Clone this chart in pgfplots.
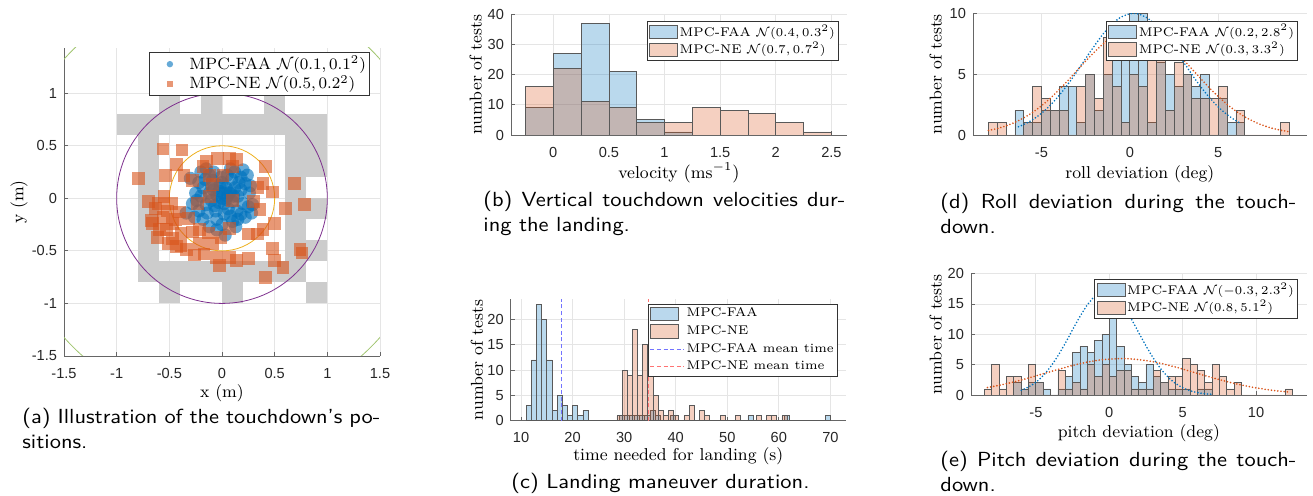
\documentclass[border=0pt]{standalone}
\usepackage{pgfplots}
\pgfplotsset{compat=1.18}
\usepackage{fontspec}
\newfontfamily\tickfont{Liberation Sans}
\newfontfamily\capfam[FakeStretch=1.1]{Latin Modern Sans}
\definecolor{mblue}{rgb}{0,0.447,0.741}
\definecolor{morange}{rgb}{0.85,0.325,0.098}
\definecolor{mpurple}{rgb}{0.494,0.184,0.556}
\definecolor{myellow}{rgb}{0.929,0.694,0.125}
\definecolor{mgreen}{rgb}{0.466,0.674,0.188}
\definecolor{axgray}{gray}{0.4}
\definecolor{gridgray}{gray}{0.9}
\definecolor{checker}{gray}{0.8}
\definecolor{edgegray}{gray}{0.35}
\pgfplotsset{
  mstyle/.style={
    scale only axis,
    axis x line*=bottom, axis y line*=left,
    axis line style={axgray, line width=0.4pt, -},
    tick style={axgray, line width=0.4pt},
    major tick length=2pt,
    tick align=inside,
    xmajorgrids, ymajorgrids,
    major grid style={gridgray, line width=0.4pt},
    tick label style={font=\tickfont\fontsize{7.3}{8}\selectfont, text=black!85},
    xticklabel style={yshift=-2.5pt},
    label style={font=\fontsize{8.6}{10}\selectfont},
    legend style={font=\fontsize{6.3}{8.2}\selectfont, draw=black!80, line width=0.4pt, fill=white,
      inner xsep=1pt, inner ysep=0.8pt, row sep=0pt, nodes={inner sep=0.8pt}},
    legend cell align=left,
  },
  hist/.style={ybar interval, fill opacity=0.27, draw=edgegray, draw opacity=1, line width=0.4pt,
     legend image code/.code={\draw[##1] (0pt,-3.3pt) rectangle (14pt,3.3pt);}},
  markleg/.style={legend image code/.code={\path[draw=none] (0pt,0pt) -- (18pt,0pt); \draw[##1, mark size=1.6pt] plot coordinates {(9pt,0pt)};}},
  curve/.style={line width=0.9pt, dash pattern=on 0pt off 1.6pt, line cap=round, smooth, forget plot},
}
\newcommand\cell[4]{\addplot[fill=checker, draw=none, forget plot] coordinates {(#1,#2) (#3,#2) (#3,#4) (#1,#4)};}
\newcommand\capfont{\capfam\fontsize{10.2}{12}\selectfont}
\begin{document}
\begin{tikzpicture}
\useasboundingbox (0,0) rectangle (656.5pt,248pt);
% ---------------- (a)
\begin{axis}[mstyle, at={(32pt,70pt)}, anchor=south west, width=158pt, height=154pt,
  xmin=-1.5, xmax=1.5, ymin=-1.5, ymax=1.43,
  xtick={-1.5,-1,-0.5,0,0.5,1,1.5}, xticklabels={-1.5,-1,-0.5,0,0.5,1,1.5},
  ytick={-1.5,-1,-0.5,0,0.5,1}, yticklabels={-1.5,-1,-0.5,0,0.5,1},
  xlabel={x (m)}, ylabel={y (m)},
  xlabel style={yshift=3.6pt},
  ylabel style={at={(axis description cs:-0.142,0.5)}, anchor=center},
  legend style={at={(0.968,0.987)}, anchor=north east, font=\fontsize{8.2}{10}\selectfont, inner ysep=1pt},
]
\cell{-0.6}{0.8}{-0.4}{1}
\cell{-0.2}{0.8}{0}{1}
\cell{0.4}{0.8}{0.6}{1}
\cell{-1}{0.6}{1}{0.8}
\cell{-0.8}{-0.6}{-0.6}{0.6}
\cell{0.6}{-0.6}{0.8}{0.6}
\cell{0.8}{0.2}{1}{0.6}
\cell{0.8}{-0.2}{1}{0}
\cell{0.8}{-0.6}{1}{-0.4}
\cell{-0.8}{-0.8}{0.8}{-0.6}
\cell{-0.6}{-1}{-0.4}{-0.8}
\cell{0}{-1}{0.2}{-0.8}
\cell{0.8}{-1}{1}{-0.8}
\draw[mgreen!70, line width=0.4pt] (axis cs:0,0) circle[radius=2];
\draw[mpurple, line width=0.4pt] (axis cs:0,0) circle[radius=1];
\draw[myellow, line width=0.4pt] (axis cs:0,0) circle[radius=0.5];
\addplot[only marks, mark=*, mark size=3.3pt, mark options={draw opacity=0, line width=0pt, fill=mblue, fill opacity=0.6}, markleg]
coordinates {(0.00,0.00) (0.05,0.02) (-0.05,0.03) (0.02,-0.05) (-0.03,-0.04) (0.08,0.06) (-0.08,0.08) (0.10,-0.03) (-0.10,-0.02) (0.04,0.10) (-0.02,0.12) (0.12,0.10) (-0.12,0.05) (0.06,-0.10) (-0.06,-0.12) (0.15,0.02) (-0.15,-0.06) (0.00,0.15) (0.02,-0.15) (0.18,0.08) (-0.18,0.10) (0.14,-0.12) (-0.14,-0.14) (0.09,0.18) (-0.09,0.17) (0.20,-0.05) (-0.20,0.02) (0.05,0.22) (-0.05,-0.20) (0.22,0.14) (-0.22,0.15) (0.18,-0.15) (-0.22,-0.12) (0.12,0.25) (-0.12,0.22) (0.25,-0.08) (-0.25,0.05) (0.00,-0.25) (0.10,-0.22) (-0.12,-0.27) (0.03,-0.35) (-0.34,-0.14) (-0.30,0.19) (0.20,0.27) (0.29,-0.06) (0.26,0.05) (-0.28,-0.05) (0.07,0.05) (-0.03,0.07) (0.11,0.02) (-0.07,-0.07) (0.01,0.05) (0.04,-0.01) (-0.10,0.12) (0.16,0.15) (-0.16,0.18) (0.15,-0.20) (-0.18,-0.20) (0.08,-0.17) (-0.01,0.20) (0.22,-0.18) (0.28,-0.14) (-0.26,-0.18) (-0.05,-0.30) (-0.20,0.25) (0.08,0.28) (0.18,0.20) (0.24,0.22) (-0.15,0.28) (-0.24,-0.02) (0.27,0.12) (-0.08,0.25) (0.13,-0.27)};
\addlegendentry{MPC-FAA $\mathcal{N}(0.1,0.1^2)$}
\addplot[only marks, mark=square*, mark size=3.2pt, mark options={draw opacity=0, line width=0pt, fill=morange, fill opacity=0.6}, markleg]
coordinates {(-0.56,0.47) (-0.38,0.46) (-0.79,0.19) (-0.54,0.22) (-0.43,0.32) (-0.15,0.35) (-0.04,0.38) (0.07,0.38) (0.14,0.37) (0.41,0.30) (0.39,0.14) (0.48,0.06) (0.69,0.14) (0.78,-0.06) (0.60,-0.10) (0.50,-0.24) (0.34,-0.34) (0.25,-0.34) (0.07,-0.29) (0.48,-0.48) (0.74,-0.49) (0.50,-0.59) (0.58,-0.66) (0.41,-0.75) (0.25,-0.57) (0.14,-0.59) (-0.02,-0.64) (-0.17,-0.53) (-0.34,-0.49) (-0.43,-0.46) (-0.51,-0.43) (-0.59,-0.30) (-0.67,-0.21) (-0.70,-0.03) (-0.63,-0.10) (-0.55,0.02) (-0.48,-0.05) (-0.56,-0.18) (-0.47,-0.24) (-0.39,-0.33) (-0.28,-0.32) (-0.21,-0.43) (-0.09,-0.43) (-0.01,-0.37) (-0.32,-0.19) (-0.40,-0.13) (-0.23,-0.05) (-0.12,0.02) (0.10,-0.02) (-0.12,0.22) (0.01,0.22) (-0.09,0.13) (0.30,-0.03) (0.36,-0.11) (-0.36,0.22) (-0.28,0.17) (-0.18,0.30) (0.10,0.30) (-0.66,-0.24) (-0.61,-0.37) (-0.53,-0.30) (-0.47,-0.38) (-0.39,-0.45) (-0.21,-0.30) (-0.13,-0.33) (-0.26,-0.54) (0.07,-0.56) (-0.05,-0.56) (0.34,0.10) (0.39,-0.30) (0.76,-0.52) (-0.60,-0.05) (-0.52,-0.12) (-0.44,-0.20)};
\addlegendentry{MPC-NE $\mathcal{N}(0.5,0.2^2)$}
\end{axis}
% ---------------- (b)
\begin{axis}[mstyle, at={(255.5pt,180.5pt)}, anchor=south west, width=168pt, height=60.5pt,
  xmin=-0.38, xmax=2.64, ymin=0, ymax=40,
  xtick={0,0.5,1,1.5,2,2.5}, xticklabels={0,0.5,1,1.5,2,2.5},
  ytick={0,10,20,30,40}, yticklabels={0,10,20,30,40},
  xlabel={velocity $(\mathrm{ms}^{-1})$}, ylabel={number of tests},
  xlabel style={yshift=4.1pt},
  ylabel style={at={(axis description cs:-0.105,0.5)}, anchor=center},
  legend style={at={(0.976,0.942)}, anchor=north east},
]
\addplot[hist, fill=mblue] coordinates {(-0.25,9) (0,27) (0.25,37) (0.5,21) (0.75,5) (1,1) (1.25,0)};
\addlegendentry{MPC-FAA $\mathcal{N}(0.4,0.3^2)$}
\addplot[hist, fill=morange] coordinates {(-0.25,16) (0,22) (0.25,11) (0.5,9) (0.75,4) (1,4) (1.25,9) (1.5,8) (1.75,7) (2,4) (2.25,1) (2.5,0)};
\addlegendentry{MPC-NE $\mathcal{N}(0.7,0.7^2)$}
\end{axis}
% ---------------- (c)
\begin{axis}[mstyle, at={(255.35pt,37.65pt)}, anchor=south west, width=167.6pt, height=60.7pt,
  xmin=8, xmax=73, ymin=0, ymax=24,
  xtick={10,20,30,40,50,60,70}, xticklabels={10,20,30,40,50,60,70},
  ytick={0,5,10,15,20}, yticklabels={0,5,10,15,20},
  xlabel={time needed for landing (s)}, ylabel={number of tests},
  xlabel style={yshift=4.4pt},
  ylabel style={at={(axis description cs:-0.101,0.5)}, anchor=center},
  legend style={at={(0.976,0.961)}, anchor=north east, row sep=1.3pt},
]
\addplot[hist, fill=mblue] coordinates {(11,3) (12,12) (13,23) (14,20) (15,12) (16,2) (17,5) (18,3) (19,1) (20,3) (21,1) (22,2) (23,0) (24,0) (25,0) (26,0) (27,0) (28,0) (29,1) (30,1) (31,1) (32,1) (33,1) (34,1) (35,2) (36,1) (37,0) (38,0) (39,1) (40,0) (41,0) (42,0) (43,0) (44,0) (45,0) (46,0) (47,0) (48,0) (49,0) (50,0) (51,0) (52,0) (53,0) (54,1) (55,0) (56,0) (57,0) (58,0) (59,0) (60,0) (61,1) (62,0) (63,0) (64,0) (65,0) (66,0) (67,0) (68,0) (69,1) (70,0)};
\addlegendentry{MPC-FAA}
\addplot[hist, fill=morange] coordinates {(28.6,1) (29.6,10) (30.6,9) (31.6,18) (32.6,9) (33.6,15) (34.6,10) (35.6,5) (36.6,2) (37.6,1) (38.6,2) (39.6,1) (40.6,0) (41.6,1) (42.6,3) (43.6,0) (44.6,2) (45.6,1) (46.6,0) (47.6,0) (48.6,1) (49.6,0) (50.6,0) (51.6,1) (52.6,0) (53.6,0) (54.6,0) (55.6,1) (56.6,0) (57.6,1) (58.6,1) (59.6,0) (60.6,1) (61.6,0)};
\addlegendentry{MPC-NE}
\addplot[blue!55, dash pattern=on 2pt off 1.3pt, line width=0.45pt] coordinates {(17.8,0) (17.8,24)};
\addlegendentry{MPC-FAA mean time}
\addplot[red!55, dash pattern=on 2pt off 1.3pt, line width=0.45pt] coordinates {(34.7,0) (34.7,24)};
\addlegendentry{MPC-NE mean time}
\end{axis}
% ---------------- (d)
\begin{axis}[mstyle, at={(486.5pt,180.5pt)}, anchor=south west, width=166.85pt, height=60.85pt,
  xmin=-8.87, xmax=10, ymin=0, ymax=10,
  xtick={-5,0,5}, xticklabels={-5,0,5},
  ytick={0,5,10}, yticklabels={0,5,10},
  xlabel={roll deviation (deg)}, ylabel={number of tests},
  xlabel style={yshift=2.6pt},
  ylabel style={at={(axis description cs:-0.112,0.5)}, anchor=center},
  legend style={at={(0.974,0.937)}, anchor=north east},
]
\addplot[hist, fill=mblue] coordinates {(-6.5,2) (-6,1) (-5.5,1) (-5,2) (-4.5,2) (-4,4) (-3.5,4) (-3,1) (-2.5,5) (-2,2) (-1.5,5) (-1,8) (-0.5,8) (0,10) (0.5,10) (1,1) (1.5,6) (2,5) (2.5,4) (3,5) (3.5,4) (4,5) (4.5,0) (5,3) (5.5,1) (6,1) (6.5,0)};
\addlegendentry{MPC-FAA $\mathcal{N}(0.2,2.8^2)$}
\addplot[hist, fill=morange] coordinates {(-8,1) (-7.5,1) (-7,0) (-6.5,0) (-6,1) (-5.5,4) (-5,3) (-4.5,2) (-4,2) (-3.5,0) (-3,4) (-2.5,5) (-2,3) (-1.5,8) (-1,4) (-0.5,1) (0,5) (0.5,4) (1,8) (1.5,7) (2,2) (2.5,6) (3,5) (3.5,3) (4,3) (4.5,3) (5,4) (5.5,0) (6,2) (6.5,0) (7,0) (7.5,0) (8,0) (8.5,1) (9,0)};
\addlegendentry{MPC-NE $\mathcal{N}(0.3,3.3^2)$}
\addplot[curve, mblue] coordinates {(-6.3,0.68) (-6,0.86) (-5.5,1.26) (-5,1.78) (-4.5,2.44) (-4,3.25) (-3.5,4.18) (-3,5.20) (-2.5,6.28) (-2,7.34) (-1.5,8.32) (-1,9.12) (-0.5,9.69) (0,9.97) (0.2,10) (0.5,9.94) (1,9.60) (1.5,8.98) (2,8.13) (2.5,7.14) (3,6.07) (3.5,4.99) (4,3.98) (4.5,3.08) (5,2.30) (5.5,1.67) (6,1.17) (6.3,0.93)};
\addplot[curve, morange] coordinates {(-8,0.37) (-7.5,0.53) (-7,0.75) (-6.5,1.04) (-6,1.41) (-5.5,1.86) (-5,2.40) (-4.5,3.02) (-4,3.72) (-3.5,4.48) (-3,5.28) (-2.5,6.07) (-2,6.82) (-1.5,7.50) (-1,8.05) (-0.5,8.45) (0,8.66) (0.3,8.7) (0.5,8.68) (1,8.51) (1.5,8.14) (2,7.62) (2.5,6.97) (3,6.23) (3.5,5.44) (4,4.65) (4.5,3.87) (5,3.16) (5.5,2.52) (6,1.96) (6.5,1.49) (7,1.11) (7.5,0.81) (8,0.57) (8.5,0.40) (9,0.27)};
\end{axis}
% ---------------- (e)
\begin{axis}[mstyle, at={(485.5pt,50.5pt)}, anchor=south west, width=167.85pt, height=60.65pt,
  xmin=-9.42, xmax=13.45, ymin=0, ymax=20,
  xtick={-5,0,5,10}, xticklabels={-5,0,5,10},
  ytick={0,5,10,15,20}, yticklabels={0,5,10,15,20},
  xlabel={pitch deviation (deg)}, ylabel={number of tests},
  xlabel style={yshift=3.1pt},
  ylabel style={at={(axis description cs:-0.105,0.5)}, anchor=center},
  legend style={at={(0.974,0.956)}, anchor=north east},
]
\addplot[hist, fill=mblue] coordinates {(-6.5,2) (-6,1) (-5.5,2) (-5,2) (-4.5,1) (-4,0) (-3.5,1) (-3,3) (-2.5,7) (-2,8) (-1.5,7) (-1,9) (-0.5,10) (0,14) (0.5,8) (1,5) (1.5,3) (2,2) (2.5,5) (3,3) (3.5,2) (4,1) (4.5,1) (5,1) (5.5,0) (6,1) (6.5,1) (7,0)};
\addlegendentry{MPC-FAA $\mathcal{N}(-0.3,2.3^2)$}
\addplot[hist, fill=morange] coordinates {(-8.5,1) (-8,5) (-7.5,1) (-7,3) (-6.5,3) (-6,1) (-5.5,5) (-5,2) (-4.5,0) (-4,0) (-3.5,4) (-3,1) (-2.5,2) (-2,1) (-1.5,5) (-1,3) (-0.5,5) (0,3) (0.5,4) (1,4) (1.5,1) (2,1) (2.5,1) (3,4) (3.5,2) (4,3) (4.5,3) (5,6) (5.5,5) (6,4) (6.5,2) (7,5) (7.5,3) (8,1) (8.5,2) (9,0) (9.5,0) (10,0) (10.5,0) (11,0) (11.5,0) (12,1) (12.5,0)};
\addlegendentry{MPC-NE $\mathcal{N}(0.8,5.1^2)$}
\addplot[curve, mblue] coordinates {(-6,0.79) (-5.5,1.32) (-5,2.11) (-4.5,3.21) (-4,4.66) (-3.5,6.46) (-3,8.53) (-2.5,10.76) (-2,12.93) (-1.5,14.84) (-1,16.23) (-0.5,16.94) (-0.3,17) (0,16.86) (0.5,16.0) (1,14.49) (1.5,12.52) (2,10.31) (2.5,8.10) (3,6.07) (3.5,4.34) (4,2.96) (4.5,1.93) (5,1.20) (5.5,0.71) (6,0.40) (6.5,0.21) (7,0.11)};
\addplot[curve, morange] coordinates {(-8.3,1.22) (-7.5,1.60) (-6.5,2.15) (-5.5,2.80) (-4.5,3.50) (-3.5,4.20) (-2.5,4.87) (-1.5,5.42) (-0.5,5.81) (0.8,6) (1.5,5.94) (2.5,5.68) (3.5,5.22) (4.5,4.61) (5.5,3.92) (6.5,3.21) (7.5,2.53) (8.5,1.92) (9.5,1.40) (10.5,0.98) (11.5,0.66) (12.2,0.49)};
\end{axis}
% ---------------- captions
\node[anchor=base west, inner sep=0pt, font=\capfont] at (11pt,36pt) {\makebox[179pt][s]{(a) Illustration of the touchdown’s po-}};
\node[anchor=base west, inner sep=0pt, font=\capfont] at (11pt,23.5pt) {sitions.};
\node[anchor=base west, inner sep=0pt, font=\capfont] at (241.5pt,144.5pt) {\makebox[181pt][s]{(b) Vertical touchdown velocities dur-}};
\node[anchor=base west, inner sep=0pt, font=\capfont] at (241.5pt,132pt) {ing the landing.};
\node[anchor=base west, inner sep=0pt, font=\capfont] at (255.5pt,3.5pt) {(c) Landing maneuver duration.};
\node[anchor=base west, inner sep=0pt, font=\capfont] at (470pt,143.5pt) {\makebox[178pt][s]{(d) Roll deviation during the touch-}};
\node[anchor=base west, inner sep=0pt, font=\capfont] at (470pt,131pt) {down.};
\node[anchor=base west, inner sep=0pt, font=\capfont] at (470pt,14.5pt) {\makebox[178pt][s]{(e) Pitch deviation during the touch-}};
\node[anchor=base west, inner sep=0pt, font=\capfont] at (470pt,2pt) {down.};
\end{tikzpicture}
\end{document}
